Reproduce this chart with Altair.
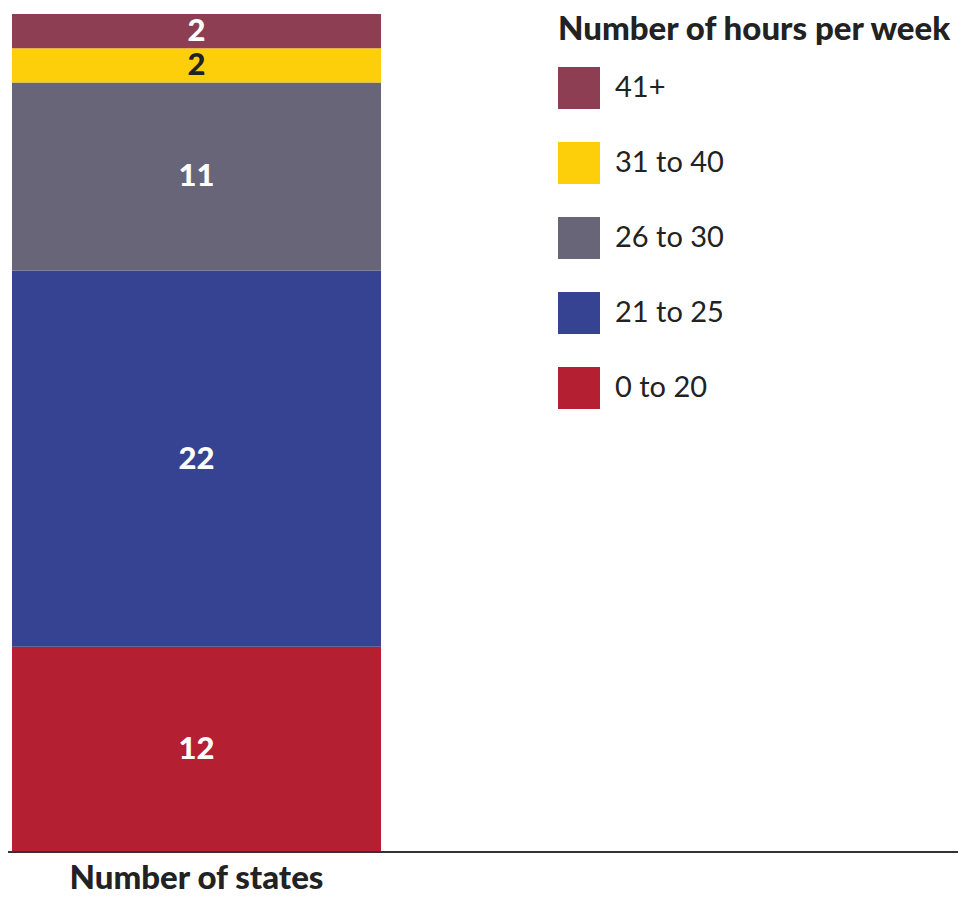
import altair as alt
import pandas as pd

hours = ["0 to 20", "21 to 25", "26 to 30", "31 to 40", "41+"]
states = [12, 22, 11, 2, 2]
colors = ["#B41F32", "#364392", "#686578", "#FDCF0B", "#8E3E52"]
group = "Number of states"

mids = []
acc = 0
for v in states:
    mids.append(acc + v / 2)
    acc += v

df = pd.DataFrame({
    "group": [group] * len(hours),
    "hours": hours,
    "states": states,
    "order": list(range(len(hours))),
    "mid": mids,
})

legend_order = hours[::-1]
legend_colors = colors[::-1]

FONT = "Lato"
W, H = 377, 838

base = alt.Chart(df)

bars = base.mark_bar(size=369).encode(
    x=alt.X("group:N", title=None,
            axis=alt.Axis(labelFont=FONT, labelFontWeight=900, labelFontSize=33,
                          labelColor="#222222", labelAngle=0, labelPadding=36,
                          labelLimit=0, ticks=False, domain=False,
                          labelBaseline="alphabetic")),
    y=alt.Y("states:Q", stack="zero", scale=alt.Scale(domain=[0, sum(states)], nice=False), axis=None),
    color=alt.Color("hours:N", scale=alt.Scale(domain=legend_order, range=legend_colors),
                    legend=alt.Legend(title="Number of hours per week", orient="none",
                                      legendX=550, legendY=0,
                                      titleFont=FONT, titleFontWeight=900, titleFontSize=33,
                                      titleColor="#222222", titlePadding=20, titleLimit=0,
                                      labelFont=FONT, labelFontSize=29, labelColor="#222222",
                                      labelLimit=0, labelOffset=15, symbolType="square",
                                      symbolSize=1764, symbolStrokeWidth=0, rowPadding=33,
                                      padding=0)),
    order=alt.Order("order:Q", sort="ascending"),
)

labels = base.mark_text(font=FONT, fontWeight=900, fontSize=31, baseline="middle", dy=1).encode(
    x=alt.X("group:N"),
    y=alt.Y("mid:Q"),
    text=alt.Text("states:Q"),
    color=alt.condition(alt.datum.hours == "31 to 40", alt.value("#222222"), alt.value("white")),
)

baseline = alt.Chart(pd.DataFrame({"y": [0]})).mark_rule(color="#333333", strokeWidth=2).encode(
    y=alt.Y("y:Q"),
    x=alt.value(-8),
    x2=alt.value(958),
)

chart = alt.layer(bars, labels, baseline).properties(
    width=W, height=H,
    autosize=alt.AutoSizeParams(type="none"),
    padding={"left": 0, "top": 6, "right": 950 - W, "bottom": 888 - 6 - H},
).configure_view(stroke=None)

chart.save("out.html", embed_options={"renderer": "svg", "actions": False})
